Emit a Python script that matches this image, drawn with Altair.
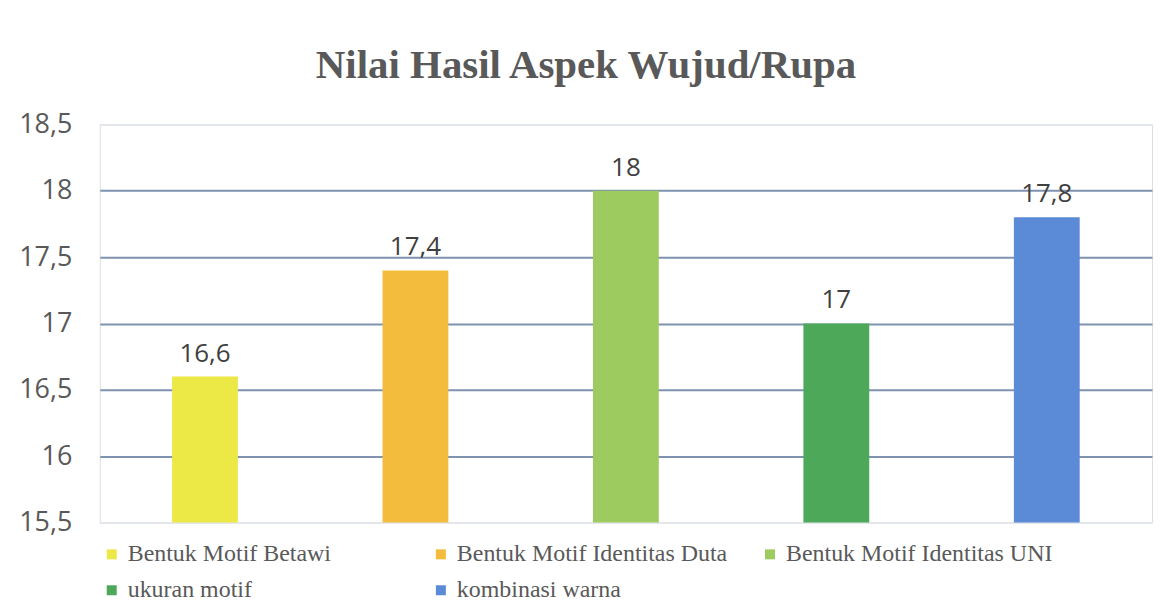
import altair as alt
import pandas as pd

categories = [
    "Bentuk Motif Betawi",
    "Bentuk Motif Identitas Duta",
    "Bentuk Motif Identitas UNI",
    "ukuran motif",
    "kombinasi warna",
]
values = [16.6, 17.4, 18.0, 17.0, 17.8]
labels = ["16,6", "17,4", "18", "17", "17,8"]
colors = ["#ECE845", "#F3BC3D", "#9DCB60", "#4DA959", "#5B8AD6"]
y_ticks = [15.5, 16, 16.5, 17, 17.5, 18, 18.5]

df = pd.DataFrame({"kategori": categories, "nilai": values, "label": labels})

x_enc = alt.X("kategori:N", sort=categories, axis=None,
              scale=alt.Scale(paddingInner=0.69, paddingOuter=0.345))
y_scale = alt.Scale(domain=[15.5, 18.5], zero=False, nice=False)

bars = alt.Chart(df).mark_bar(size=66).encode(
    x=x_enc,
    y=alt.Y("nilai:Q", scale=y_scale, title=None,
            axis=alt.Axis(values=y_ticks,
                          labelExpr="replace(format(datum.value, ''), '.', ',')",
                          labelFont="Open Sans", labelFontSize=27, labelColor="#595959",
                          labelPadding=28, ticks=False, domain=False,
                          minExtent=88, maxExtent=88,
                          gridColor={"condition": {"test": "datum.value == 18.5 || datum.value == 15.5",
                                                   "value": "#e3e6ea"},
                                     "value": "#7f93b0"},
                          gridWidth=2)),
    y2=alt.datum(15.5),
    color=alt.Color("kategori:N", sort=categories,
                    scale=alt.Scale(domain=categories, range=colors),
                    legend=alt.Legend(title=None, orient="none", legendX=0, legendY=419,
                                      columns=3, direction="horizontal", gridAlign="all",
                                      symbolType="square", symbolSize=100, symbolStrokeWidth=0,
                                      labelFont="Liberation Serif", labelFontSize=24,
                                      labelColor="#595959", labelOffset=4,
                                      columnPadding=30, rowPadding=12, labelLimit=500)),
)

text = alt.Chart(df).mark_text(dy=-10, baseline="bottom", font="Open Sans", fontSize=26,
                               color="#404040").encode(
    x=alt.X("kategori:N", sort=categories),
    y=alt.Y("nilai:Q", scale=y_scale),
    text="label:N",
)

chart = (bars + text).properties(
    width=1055, height=399,
    padding={"left": 4, "top": 36, "right": 2, "bottom": 2},
    title=alt.Title("Nilai Hasil Aspek Wujud/Rupa", font="Liberation Serif", fontSize=41,
                    fontWeight="bold", color="#595959", anchor="middle", offset=24, dx=-40),
).configure_view(stroke=None).configure(background="white")

chart.save("out.html", embed_options={"renderer": "svg", "actions": False})
